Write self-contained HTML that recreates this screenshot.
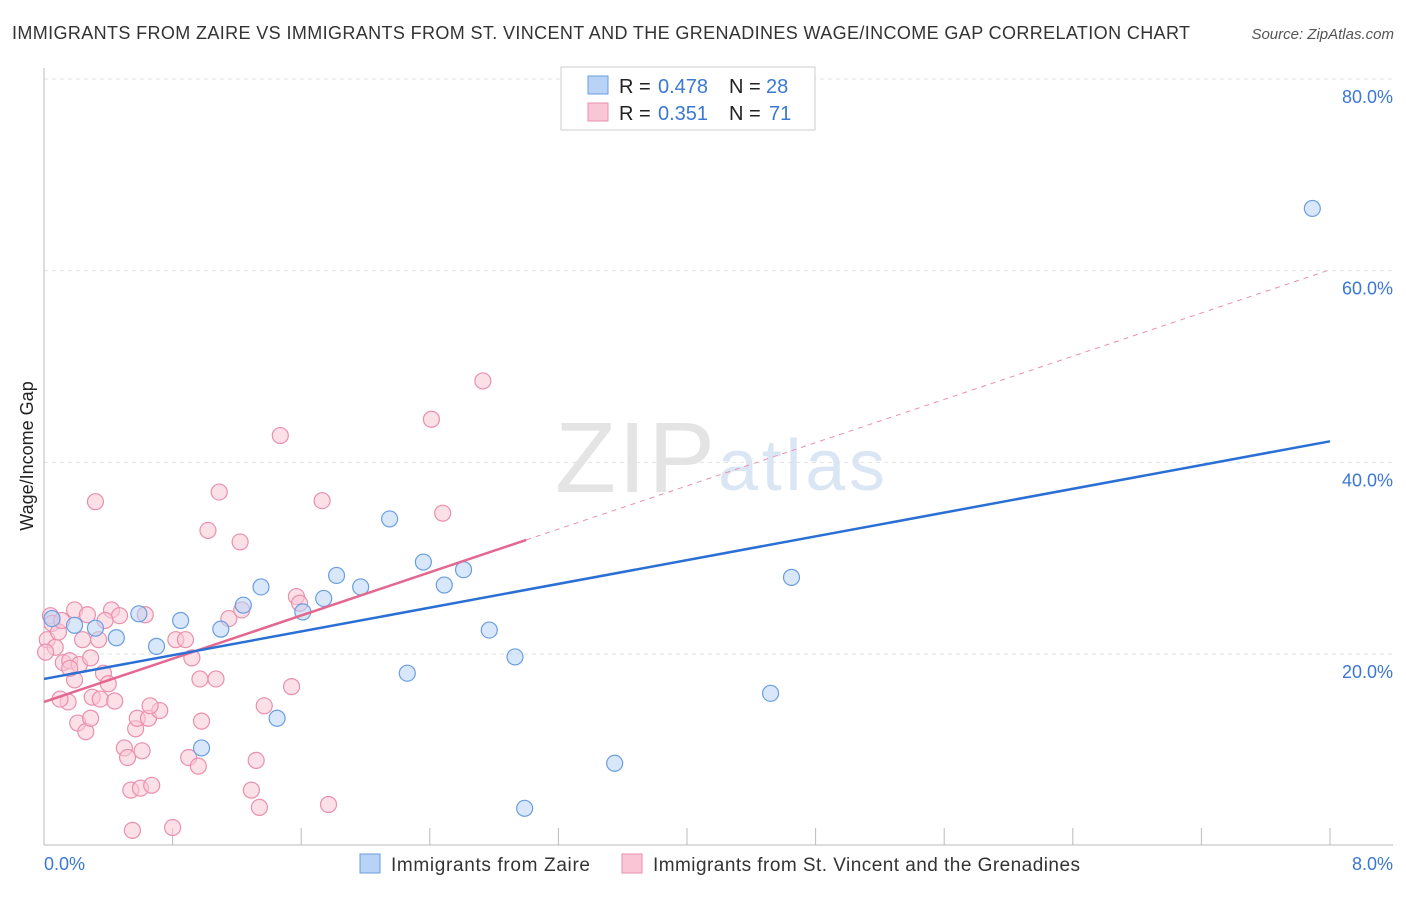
<!DOCTYPE html>
<html><head><meta charset="utf-8"><style>
body{margin:0;background:#fff;font-family:"Liberation Sans",sans-serif}
svg text{font-family:"Liberation Sans",sans-serif}
</style></head><body>
<svg width="1406" height="892">
<text x="12" y="39" font-size="18" fill="#333" textLength="1178" lengthAdjust="spacing">IMMIGRANTS FROM ZAIRE VS IMMIGRANTS FROM ST. VINCENT AND THE GRENADINES WAGE/INCOME GAP CORRELATION CHART</text>
<text x="1394" y="39" font-size="15" fill="#555" text-anchor="end" font-style="italic">Source: ZipAtlas.com</text>
<text x="715" y="492" font-size="100" fill="#e4e4e4" text-anchor="end" font-family="Liberation Serif" textLength="160">ZIP</text>
<text x="718" y="490" font-size="72" fill="#dbe6f5" textLength="167">atlas</text>
<g id="grid"></g>
<g id="axes"></g>
<g id="marks"></g>
<text x="33" y="456" font-size="18" fill="#222" text-anchor="middle" transform="rotate(-90 33 456)">Wage/Income Gap</text>
<text x="44" y="870" font-size="18" fill="#3a78d4">0.0%</text>
<text x="1393" y="870" font-size="18" fill="#3a78d4" text-anchor="end">8.0%</text>
<g>
<rect x="561" y="67" width="254" height="63" fill="#fff" stroke="#ccc"/>
<rect x="588" y="76" width="20" height="18" fill="#b8d3f5" stroke="#6a9ee0"/>
<rect x="588" y="103" width="20" height="18" fill="#f9c6d6" stroke="#ea8fae"/>
<text y="93" font-size="20" fill="#222"><tspan x="619">R =</tspan><tspan x="658" fill="#3a78d4">0.478</tspan><tspan x="729">N =</tspan><tspan x="766" fill="#3a78d4">28</tspan></text>
<text y="120" font-size="20" fill="#222"><tspan x="619">R =</tspan><tspan x="658" fill="#3a78d4">0.351</tspan><tspan x="729">N =</tspan><tspan x="769" fill="#3a78d4">71</tspan></text>
</g>
<g>
<rect x="360" y="854" width="20" height="19" fill="#b8d3f5" stroke="#6a9ee0"/>
<text x="391" y="871" font-size="19" fill="#333" textLength="199">Immigrants from Zaire</text>
<rect x="622" y="854" width="20" height="19" fill="#f9c6d6" stroke="#ea8fae"/>
<text x="653" y="871" font-size="19" fill="#333" textLength="427">Immigrants from St. Vincent and the Grenadines</text>
</g>
</svg>
<script>
const yTicks=[20,40,60,80];
const blueX=[0.05,0.19,0.32,0.45,0.59,0.70,0.85,0.98,1.10,1.24,1.35,1.45,1.61,1.74,1.82,1.97,2.15,2.26,2.36,2.49,2.61,2.77,2.93,2.99,3.55,4.52,4.65,7.89];
const blueY=[23.7,23.0,22.7,21.7,24.2,20.8,23.5,10.2,22.6,25.1,27.0,13.3,24.4,25.8,28.2,27.0,34.1,18.0,29.6,27.2,28.8,22.5,19.7,3.9,8.6,15.9,28.0,66.5];
const pinkX=[0.04,0.05,0.02,0.07,0.09,0.11,0.12,0.16,0.15,0.19,0.19,0.21,0.22,0.24,0.26,0.27,0.29,0.30,0.32,0.34,0.35,0.37,0.40,0.42,0.44,0.47,0.50,0.52,0.54,0.55,0.57,0.58,0.60,0.61,0.63,0.65,0.67,0.72,0.80,0.82,0.90,0.92,0.96,0.97,0.98,1.02,1.07,1.09,1.15,1.22,1.23,1.29,1.32,1.34,1.37,1.47,1.54,1.57,1.59,1.73,1.77,2.41,2.48,2.73,0.16,0.29,0.10,0.01,0.38,0.66,0.88];
const pinkY=[24.0,23.2,21.5,20.7,22.3,23.5,19.1,19.3,15.0,17.3,24.6,12.8,18.9,21.5,11.9,24.1,13.3,15.5,35.9,21.5,15.3,18.0,16.9,24.6,15.1,24.0,10.2,9.2,5.8,1.6,12.2,13.3,6.0,9.9,24.1,13.3,6.3,14.1,1.9,21.5,9.2,19.6,8.3,17.4,13.0,32.9,17.4,36.9,23.7,31.7,24.6,5.8,8.9,4.0,14.6,42.8,16.6,26.0,25.3,36.0,4.3,44.5,34.7,48.5,18.5,19.6,15.3,20.2,23.5,14.6,21.5];
const blueLine=[17.4,42.2], pinkLine=[15.0,60.1], pinkSolidEnd=3.0;
const X=v=>44+v*160.75, Y=v=>845.7-v*9.583;
const NS="http://www.w3.org/2000/svg";
function mk(t,a,p){const e=document.createElementNS(NS,t);for(const k in a)e.setAttribute(k,a[k]);p.appendChild(e);return e;}
const grid=document.getElementById('grid'),axes=document.getElementById('axes'),marks=document.getElementById('marks');
yTicks.forEach(t=>{const l=mk('line',{x1:44,x2:1393,y1:Y(t),y2:Y(t),stroke:'#e2e2e2','stroke-dasharray':'4,4'},grid);


const tx=mk('text',{x:1393,y:Y(t)+24,'font-size':18,fill:'#3a78d4','text-anchor':'end'},axes);tx.textContent=t.toFixed(1)+'%';

});
let ax=mk('line',{x1:44,x2:44,y1:68,y2:845,stroke:'#bbb'},axes);


ax=mk('line',{x1:44,x2:1393,y1:845,y2:845,stroke:'#bbb'},axes);


for(let i=0;i<=10;i++){const t=mk('line',{x1:X(i*0.8),x2:X(i*0.8),y1:828,y2:845,stroke:'#bbb'},axes);

}
function dot(x,y,f,s,n){const c=mk('circle',{cx:X(x),cy:Y(y),r:8,fill:f,'fill-opacity':0.55,stroke:s,'stroke-width':1.2},marks);

}
pinkX.forEach((x,i)=>dot(x,pinkY[i],'#f9c6d6','#ea8fae','pink-point'));
blueX.forEach((x,i)=>dot(x,blueY[i],'#b8d3f5','#6a9ee0','blue-point'));
const pl=v=>pinkLine[0]+(pinkLine[1]-pinkLine[0])*v/8;
let l=mk('line',{x1:X(pinkSolidEnd),y1:Y(pl(pinkSolidEnd)),x2:X(8),y2:Y(pinkLine[1]),stroke:'#ea8fae','stroke-dasharray':'5,5','stroke-width':1},marks);


l=mk('line',{x1:X(0),y1:Y(pinkLine[0]),x2:X(pinkSolidEnd),y2:Y(pl(pinkSolidEnd)),stroke:'#e4678f','stroke-width':2.5},marks);


l=mk('line',{x1:X(0),y1:Y(blueLine[0]),x2:X(8),y2:Y(blueLine[1]),stroke:'#2a6fd4','stroke-width':2.5},marks);


</script>
</body></html>
